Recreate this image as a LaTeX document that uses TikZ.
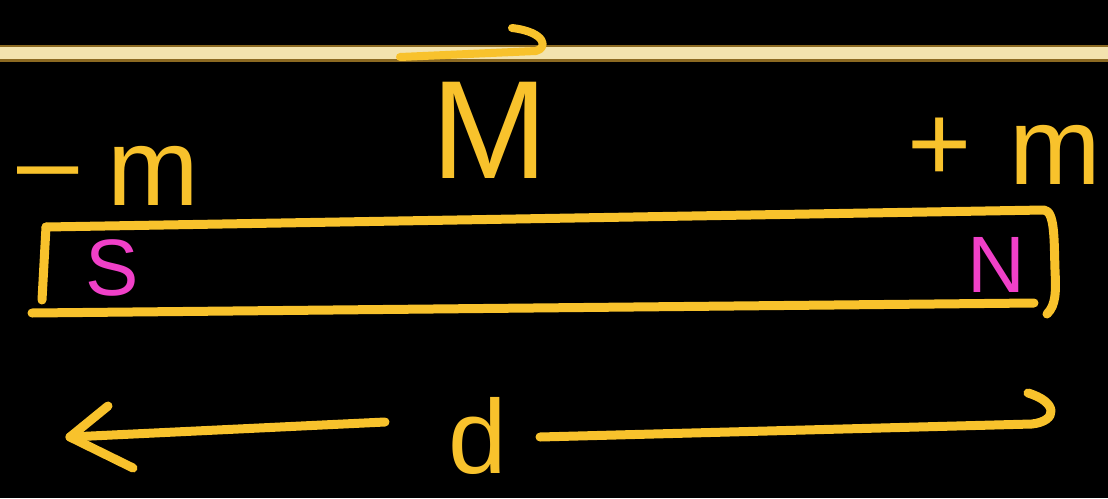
\documentclass[tikz,border=0pt]{standalone}
\usepackage{fontspec}
\setmainfont{Liberation Sans}
\definecolor{ink}{HTML}{F8C22C}
\definecolor{pinkink}{HTML}{F040C8}
\definecolor{cream}{HTML}{F3E3AE}
\definecolor{glow}{HTML}{8C6A22}
\begin{document}
\begin{tikzpicture}[x=1pt,y=-1pt,
  pen/.style={draw=ink,line width=9pt,line cap=round,line join=round},
  lbl/.style={text=ink,inner sep=0pt,anchor=center},
  pole/.style={text=pinkink,inner sep=0pt,anchor=center,font=\fontsize{80}{80}\selectfont}]
\fill[black] (0,0) rectangle (1108,498);
\useasboundingbox (0,0) rectangle (1108,498);
% top line
\draw[glow,line width=17pt] (0,53) -- (1108,53);
\draw[cream,line width=12pt] (0,53) -- (1108,53);
% vector arrow over M
\coordinate (va) at (400,57);
\coordinate (vb) at (536,51);
\coordinate (vc) at (512,28);
\draw[pen,line width=8pt] (va) -- (vb) .. controls (548,48) and (546,32) .. (vc);
% labels
\node[lbl,font=\fontsize{140}{140}\selectfont] (M) at (490,130) {M};
\node[lbl,font=\fontsize{110}{110}\selectfont] (minus) at (48,183) {–};
\node[lbl,font=\fontsize{110}{110}\selectfont] (mleft) at (153,176) {m};
\node[lbl,font=\fontsize{110}{110}\selectfont] (plus) at (940,150) {+};
\node[lbl,font=\fontsize{110}{110}\selectfont] (mright) at (1055,155) {m};
% bar
\coordinate (tl) at (46,227);
\coordinate (tr) at (1044,210);
\coordinate (bl) at (32,313);
\coordinate (br) at (1034,303);
\draw[pen] (tl) -- (tr) .. controls (1055,211) and (1054,240) .. (1055,270) .. controls (1056,292) and (1056,305) .. (1047,314);
\draw[pen] (tl) -- (42,300);
\draw[pen] (bl) -- (br);
\node[pole] (S) at (112,268) {S};
\node[pole] (N) at (996,265) {N};
% d and arrows
\node[lbl,font=\fontsize{105}{105}\selectfont] (d) at (478,436) {d};
\coordinate (l0) at (385,422);
\coordinate (la) at (70,437);
\coordinate (r0) at (540,437);
\coordinate (rb) at (1032,424);
\draw[pen] (l0) -- (la);
\draw[pen] (108,406) -- (la) -- (133,468);
\draw[pen] (r0) -- (rb) .. controls (1058,421) and (1058,402) .. (1028,393);
\end{tikzpicture}
\end{document}
